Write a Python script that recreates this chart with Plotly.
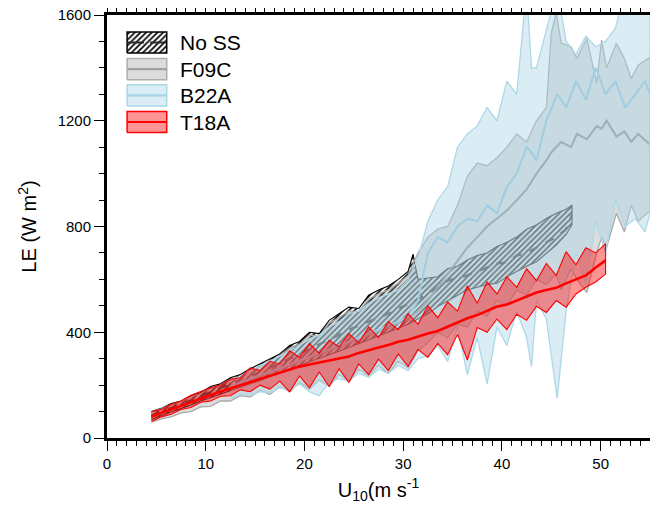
import plotly.graph_objects as go

# ---------------- data ----------------
# T18A
t18_x = [4.5, 5.5, 6.5, 7.5, 8.5, 9.5, 10.5, 11.5, 12.5, 13.5, 14.5, 15.5, 16.5, 17.5, 18.5, 19.5,
         20.5, 21.5, 22.5, 23.5, 24.5, 25.5, 26.5, 27.5, 28.5, 29.5, 30.5, 31.5, 32.5, 33.5, 34.5,
         35.5, 36.5, 37.5, 38.5, 39.5, 40.5, 41.5, 42.5, 43.5, 44.5, 45.5, 46.5, 47.5, 48.5, 49.5, 50.5]
t18_med = [81, 95, 108, 122, 137, 151, 163, 176, 188, 200, 213, 224, 236, 247, 258, 270,
           278, 286, 294, 300, 308, 322, 333, 342, 352, 364, 372, 384, 395, 405, 420,
           438, 453, 465, 480, 497, 505, 520, 535, 550, 560, 568, 585, 600, 615, 645, 672]
t18_hi = [100, 108, 128, 140, 162, 175, 190, 200, 222, 228, 265, 255, 290, 280, 330, 305,
          358, 320, 370, 345, 395, 360, 420, 380, 440, 410, 470, 430, 500, 455, 515,
          480, 575, 510, 590, 545, 610, 570, 640, 595, 660, 615, 705, 655, 720, 700, 735]
t18_lo = [62, 80, 90, 108, 115, 135, 140, 158, 160, 182, 175, 200, 185, 215, 175, 235,
          190, 250, 195, 262, 210, 280, 240, 298, 255, 318, 270, 335, 305, 358, 315,
          392, 295, 418, 400, 450, 410, 468, 445, 498, 475, 520, 495, 545, 570, 590, 620]

# No SS
noss_x = [4.5, 5.5, 6.5, 7.5, 8.5, 9.5, 10.5, 11.5, 12.5, 13.5, 14.5, 15.5, 16.5, 17.5, 18.5, 19.5,
          20.5, 21.5, 22.5, 23.5, 24.5, 25.5, 26.5, 27.5, 28.5, 29.5, 30.5, 31.0, 31.5, 32.5, 33.5,
          34.5, 35.5, 36.5, 37.5, 38.5, 39.5, 40.5, 41.5, 42.5, 43.5, 44.5, 45.5, 46.5, 47.1]
noss_med = [85, 100, 115, 128, 142, 158, 174, 190, 205, 220, 236, 250, 265, 282, 300, 318,
            335, 352, 372, 390, 410, 425, 440, 455, 470, 490, 505, 515, 525, 545, 570,
            595, 605, 615, 630, 645, 660, 665, 690, 700, 720, 740, 760, 790, 845]
noss_hi = [100, 112, 130, 140, 160, 172, 195, 205, 228, 240, 262, 280, 300, 318, 350, 365,
           400, 395, 445, 470, 495, 490, 540, 560, 575, 600, 630, 695, 600, 605, 610,
           640, 650, 673, 690, 700, 724, 740, 760, 790, 806, 830, 850, 865, 881]
noss_lo = [70, 84, 98, 110, 125, 140, 152, 168, 180, 192, 205, 218, 230, 245, 260, 275,
           290, 302, 315, 328, 340, 355, 370, 385, 400, 415, 430, 440, 450, 470, 497,
           520, 540, 560, 570, 580, 585, 610, 630, 650, 667, 700, 730, 770, 806]

# F09C
f09_x = [4.5, 5.5, 6.5, 7.5, 8.5, 9.5, 10.5, 11.5, 12.5, 13.5, 14.5, 15.5, 16.5, 17.5, 18.5, 19.5,
         20.5, 21.5, 22.5, 23.5, 24.5, 25.5, 26.5, 27.5, 28.5, 29.5, 30.5, 31.5, 32.5, 33.5, 34.5,
         35.5, 36.5, 37.5, 38.5, 39.5, 40.5, 41.5, 42.5, 43.5, 44.5, 45.0, 45.5, 46.0, 47.0, 47.6,
         48.6, 49.6, 50.1, 50.6, 51.6, 52.4, 53.1, 53.8, 55.0]
f09_med = [78, 92, 106, 120, 135, 148, 162, 176, 190, 204, 218, 231, 245, 258, 272, 286,
           300, 315, 330, 345, 360, 375, 390, 405, 420, 435, 450, 480, 520, 570, 620,
           670, 720, 760, 800, 830, 860, 900, 940, 1000, 1050, 1080, 1100, 1120, 1100, 1150,
           1130, 1180, 1170, 1200, 1140, 1160, 1120, 1150, 1110]
f09_hi = [98, 110, 126, 138, 156, 168, 190, 200, 222, 232, 255, 270, 292, 310, 340, 355,
          390, 385, 435, 455, 480, 480, 525, 545, 560, 585, 615, 700, 760, 790, 800,
          880, 990, 1040, 1030, 1060, 1100, 1150, 1120, 1200, 1250, 1530, 1610, 1494, 1480, 1436,
          1511, 1342, 1505, 1400, 1493, 1435, 1360, 1410, 1440]
f09_lo = [60, 72, 80, 95, 100, 118, 120, 140, 140, 160, 155, 180, 165, 195, 175, 210,
          185, 220, 195, 240, 215, 260, 235, 275, 245, 290, 265, 330, 360, 400, 380,
          430, 420, 480, 460, 520, 500, 560, 540, 600, 580, 600, 620, 560, 640, 600,
          550, 700, 760, 720, 850, 780, 880, 820, 860]

# B22A
b22_x = [12.5, 13.5, 14.5, 15.5, 16.5, 17.5, 18.5, 19.5, 20.5, 21.5, 22.5, 23.5, 24.5, 25.5, 26.5,
         27.5, 28.5, 29.5, 30.5, 31.5, 32.5, 33.5, 34.5, 35.5, 36.5, 37.5, 38.5, 39.5, 40.5, 41.5,
         42.5, 43.0, 43.5, 44.5, 45.6, 46.5, 47.5, 48.5, 49.5, 50.5, 51.5, 52.5, 53.5, 54.5, 55.0]
b22_med = [195, 210, 222, 238, 250, 264, 278, 292, 306, 320, 334, 350, 365, 380, 396,
           410, 425, 440, 460, 520, 700, 760, 740, 800, 830, 820, 880, 850, 950, 1000,
           1100, 1080, 1050, 1200, 1300, 1250, 1350, 1280, 1400, 1300, 1350, 1250, 1300, 1350, 1300]
b22_hi = [215, 235, 255, 275, 290, 310, 330, 350, 375, 390, 420, 440, 470, 480, 510,
          530, 545, 560, 600, 680, 820, 900, 950, 1100, 1150, 1180, 1250, 1200, 1350, 1300,
          1700, 1400, 1400, 1550, 1700, 1500, 1450, 1520, 1480, 1500, 1550, 1700, 1700, 1700, 1700]
b22_lo = [150, 165, 160, 175, 170, 190, 180, 205, 175, 160, 210, 225, 215, 245, 230,
          260, 245, 275, 255, 300, 310, 350, 290, 420, 240, 380, 205, 420, 350, 480,
          380, 270, 520, 450, 150, 480, 700, 580, 820, 700, 900, 800, 830, 780, 850]

legend_names = ["No SS", "F09C", "B22A", "T18A"]

# ---------------- figure ----------------
fig = go.Figure()


def band(x, lo, hi, fillcolor, linecolor, lw, pattern=None):
    kw = dict(
        x=list(x) + list(x)[::-1],
        y=list(hi) + list(lo)[::-1],
        mode="lines",
        fill="toself",
        line=dict(color=linecolor, width=lw),
        showlegend=False,
        hoverinfo="skip",
    )
    if pattern is not None:
        kw["fillpattern"] = pattern
        kw["fillcolor"] = "rgba(0,0,0,0)"
    else:
        kw["fillcolor"] = fillcolor
    fig.add_trace(go.Scatter(**kw))


BLUE_FILL = "rgba(173,216,230,0.45)"
BLUE_LINE = "rgb(173,216,230)"
GREY_FILL = "rgba(150,150,150,0.33)"
GREY_LINE = "rgb(170,170,170)"
RED_FILL = "rgba(255,0,0,0.42)"
RED_LINE = "rgb(255,0,0)"
HATCH = dict(shape="/", fgcolor="black", bgcolor="rgba(0,0,0,0)", size=4, solidity=0.42)

# No SS (bottom layer)
band(noss_x, noss_lo, noss_hi, None, "black", 1.1, pattern=HATCH)
fig.add_trace(go.Scatter(x=noss_x, y=noss_med, mode="lines",
                         line=dict(color="rgb(40,40,40)", width=2.4, dash="dash"),
                         showlegend=False, hoverinfo="skip"))
# F09C
band(f09_x, f09_lo, f09_hi, GREY_FILL, GREY_LINE, 1.3)
fig.add_trace(go.Scatter(x=f09_x, y=f09_med, mode="lines",
                         line=dict(color="rgb(145,145,145)", width=2),
                         showlegend=False, hoverinfo="skip"))
# B22A
band(b22_x, b22_lo, b22_hi, BLUE_FILL, BLUE_LINE, 1.3)
fig.add_trace(go.Scatter(x=b22_x, y=b22_med, mode="lines",
                         line=dict(color="rgb(160,205,225)", width=2),
                         showlegend=False, hoverinfo="skip"))
# T18A
band(t18_x, t18_lo, t18_hi, RED_FILL, RED_LINE, 1.1)
fig.add_trace(go.Scatter(x=t18_x, y=t18_med, mode="lines",
                         line=dict(color=RED_LINE, width=2.6),
                         showlegend=False, hoverinfo="skip"))

# ---------------- custom legend (overlay axes in plot-fraction units) ----------------
sw_x0, sw_x1 = 0.037, 0.110
row_y = [0.935, 0.872, 0.810, 0.747]
half_h = 0.025
sw_styles = [
    (None, "black", HATCH, "rgb(40,40,40)", "dash"),
    (GREY_FILL, "rgb(175,175,175)", None, "rgb(160,160,160)", "solid"),
    (BLUE_FILL, BLUE_LINE, None, "rgb(165,210,228)", "solid"),
    (RED_FILL, RED_LINE, None, RED_LINE, "solid"),
]
FONT = "Liberation Sans, Arial, Helvetica, sans-serif"
for (fc, lc, pat, mc, dash), yc, name in zip(sw_styles, row_y, legend_names):
    kw = dict(x=[sw_x0, sw_x1, sw_x1, sw_x0, sw_x0],
              y=[yc - half_h, yc - half_h, yc + half_h, yc + half_h, yc - half_h],
              mode="lines", fill="toself", line=dict(color=lc, width=1.5),
              xaxis="x2", yaxis="y2", showlegend=False, hoverinfo="skip")
    if pat is not None:
        kw["fillpattern"] = pat
        kw["fillcolor"] = "rgba(0,0,0,0)"
    else:
        kw["fillcolor"] = fc
    fig.add_trace(go.Scatter(**kw))
    fig.add_trace(go.Scatter(x=[sw_x0, sw_x1], y=[yc, yc], mode="lines",
                             line=dict(color=mc, width=2.2,
                                       dash="17px,6px" if dash == "dash" else "solid"),
                             xaxis="x2", yaxis="y2", showlegend=False, hoverinfo="skip"))
    fig.add_annotation(x=0.131, y=yc, xref="x2", yref="y2", text=name, showarrow=False,
                       xanchor="left", yanchor="middle",
                       font=dict(family=FONT, size=21, color="black"))

axis_common = dict(
    showline=True, linewidth=3, linecolor="black", mirror="allticks",
    ticks="outside", ticklen=10, tickwidth=1.2, tickcolor="black",
    showgrid=False, zeroline=False, automargin=False, ticklabeloverflow="allow",
    tickfont=dict(family=FONT, size=15, color="black"),
)
# the page body adds an 8 px offset, so the figure is 8 px smaller than the window
fig.update_layout(
    template="none",
    width=650, height=503,
    margin=dict(l=99, r=8, t=7, b=73, autoexpand=False),
    paper_bgcolor="white", plot_bgcolor="white",
    font=dict(family=FONT, color="black"),
    showlegend=False,
    xaxis=dict(range=[0, 55], dtick=10, tick0=0,
               minor=dict(dtick=1, ticklen=5, ticks="outside", tickcolor="black", tickwidth=1),
               title=dict(text="U<sub>10</sub>(m s<sup>-1</sup>",
                          font=dict(family=FONT, size=20, color="black"), standoff=12),
               **axis_common),
    yaxis=dict(range=[0, 1600], dtick=400, tick0=0,
               minor=dict(dtick=100, ticklen=5, ticks="outside", tickcolor="black", tickwidth=1),
               title=dict(text="LE (W m<sup>2</sup>)",
                          font=dict(family=FONT, size=20, color="black"), standoff=16),
               **axis_common),
    xaxis2=dict(overlaying="x", range=[0, 1], visible=False, fixedrange=True),
    yaxis2=dict(overlaying="y", range=[0, 1], visible=False, fixedrange=True),
)

fig.write_html("out.html")
